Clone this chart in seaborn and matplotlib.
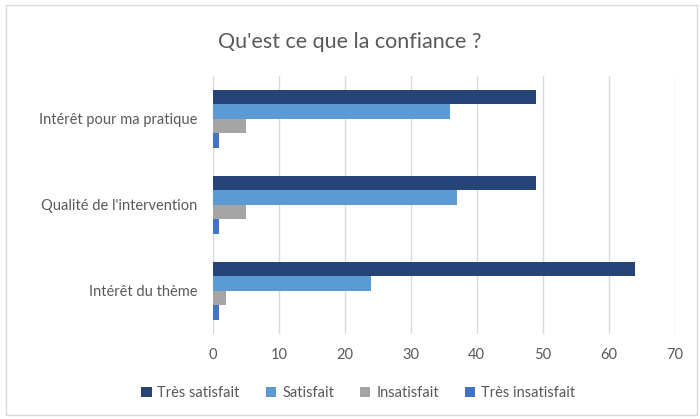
import seaborn as sns
import matplotlib.pyplot as plt
import pandas as pd
from matplotlib.patches import Rectangle

categories = ["Intérêt pour ma pratique", "Qualité de l'intervention", "Intérêt du thème"]
series = ["Très satisfait", "Satisfait", "Insatisfait", "Très insatisfait"]
tres_satisfait = [49, 49, 64]
satisfait = [36, 37, 24]
insatisfait = [5, 5, 2]
tres_insatisfait = [1, 1, 1]
colors = ["#264478", "#5B9BD5", "#A5A5A5", "#4472C4"]
xticks = [0, 10, 20, 30, 40, 50, 60, 70]

rows = []
for s, vals in zip(series, [tres_satisfait, satisfait, insatisfait, tres_insatisfait]):
    for c, v in zip(categories, vals):
        rows.append({"cat": c, "serie": s, "val": v})
data = pd.DataFrame(rows)

sns.set_style("white")
plt.rcParams["font.family"] = ["Lato", "DejaVu Sans"]

fig = plt.figure(figsize=(7, 4.19), dpi=100)
ax = fig.add_axes([0.304, 0.203, 0.66, 0.616])
sns.barplot(data=data, x="val", y="cat", hue="serie", order=categories,
            hue_order=series, palette=colors, saturation=1, orient="h", width=0.675,
            errorbar=None, linewidth=0, ax=ax)

ax.set_xlim(0, 70)
ax.set_xticks(xticks)
ax.grid(axis="x", color="#D9D9D9", linewidth=1)
ax.set_axisbelow(True)
for sp in ax.spines.values():
    sp.set_visible(False)
ax.tick_params(axis="both", length=0, colors="#595959", labelsize=10.5)
ax.tick_params(axis="x", pad=10)
ax.tick_params(axis="y", pad=11)
ax.set_xlabel("")
ax.set_ylabel("")

fig.text(0.5, 0.9, "Qu'est ce que la confiance ?", ha="center", va="center",
         fontsize=15.5, color="#595959")

handles, labels = ax.get_legend_handles_labels()
ax.legend_.remove()
fig.legend(handles, labels, loc="center", bbox_to_anchor=(0.512, 0.062), ncol=4,
           frameon=False, fontsize=10.5, handlelength=0.7, handleheight=0.7,
           columnspacing=1.8, handletextpad=0.4, labelcolor="#595959")

fig.patches.append(Rectangle((0.008, 0.01), 0.988, 0.978, transform=fig.transFigure,
                             fill=False, edgecolor="#D9D9D9", linewidth=1))

fig.savefig("out.png", dpi=100)
